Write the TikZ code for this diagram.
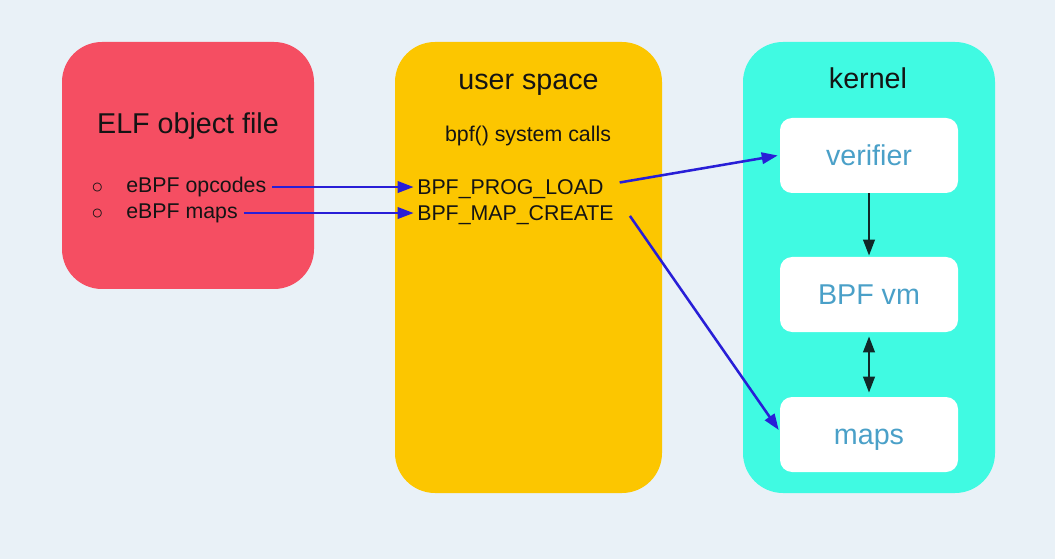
\documentclass[tikz,border=0pt]{standalone}
\usepackage{fontspec}
\setmainfont{Liberation Sans}
\usetikzlibrary{arrows.meta}
\definecolor{bg}{RGB}{233,241,247}
\definecolor{elfred}{RGB}{245,78,98}
\definecolor{usery}{RGB}{252,198,0}
\definecolor{kturq}{RGB}{64,250,226}
\definecolor{arrblue}{RGB}{40,30,215}
\definecolor{arrdark}{RGB}{16,40,40}
\definecolor{boxtext}{RGB}{74,160,200}
\definecolor{txt}{RGB}{20,20,20}
\begin{document}
\begin{tikzpicture}[x=0.75pt,y=-0.75pt,
  bigbox/.style={rounded corners=30pt, inner sep=0pt, draw=none},
  innerbox/.style={fill=white, rounded corners=9pt, minimum width={178*0.75pt}, minimum height={75*0.75pt},
     inner sep=0pt, font=\fontsize{21.5}{24}\selectfont, text=boxtext, text height=15.5pt, text depth=0pt},
  titletext/.style={font=\fontsize{21.5}{24}\selectfont, text=txt, inner sep=0pt, anchor=base},
  bodytext/.style={font=\fontsize{16}{19}\selectfont, text=txt, inner sep=0pt},
  tip/.tip={Triangle[length=12pt,width=8.5pt]},
  bluearrow/.style={draw=arrblue, line width=1.9pt, -tip},
  darkarrow/.style={draw=arrdark, line width=2pt},
]
\useasboundingbox (0,0) rectangle (1055,559);
\fill[bg] (0,0) rectangle (1055,559);

% big boxes
\node[bigbox, fill=elfred, minimum width={252*0.75pt}, minimum height={247*0.75pt}] (elf) at (188,165.5) {};
\node[bigbox, fill=usery, minimum width={267*0.75pt}, minimum height={451*0.75pt}] (user) at (528.5,267.5) {};
\node[bigbox, fill=kturq, minimum width={252*0.75pt}, minimum height={451*0.75pt}] (kernel) at (869,267.5) {};

% ELF content
\node[titletext] (elftitle) at (188,134) {ELF object file};
\node[bodytext, font=\fontsize{15}{17}\selectfont] (b1) at (97.5,188.5) {○};
\node[bodytext, font=\fontsize{15}{17}\selectfont] (b2) at (97.5,214.5) {○};
\node[bodytext, anchor=mid west] (op) at (126,188.5) {eBPF opcodes};
\node[bodytext, anchor=mid west] (mp) at (126,214.5) {eBPF maps};

% user space content
\node[titletext] (ustitle) at (528.5,90) {user space};
\node[bodytext, anchor=base] (sys) at (528,142) {bpf() system calls};
\node[bodytext, anchor=mid west] (load) at (417,190.5) {BPF\_PROG\_LOAD};
\node[bodytext, anchor=mid west] (create) at (417,216.5) {BPF\_MAP\_CREATE};

% kernel content
\node[titletext] (ktitle) at (868,89) {kernel};
\node[innerbox] (ver) at (869,155.5) {verifier};
\node[innerbox] (vm) at (869,294.5) {BPF vm};
\node[innerbox] (maps) at (869,434.5) {maps};

% arrows
\draw[bluearrow] ([xshift=4.5pt,yshift=1.1pt]op.mid east) -- ([xshift=-2.5pt,yshift=2.6pt]load.mid west);
\draw[bluearrow] ([xshift=4.5pt,yshift=1.1pt]mp.mid east) -- ([xshift=-2.5pt,yshift=2.6pt]create.mid west);
\draw[bluearrow] ([xshift=12pt,yshift=6pt]load.mid east) -- ([xshift=-1.5pt]ver.west);
\draw[bluearrow] ([xshift=12pt,yshift=0.4pt]create.mid east) -- ([xshift=-0.75pt,yshift=3.4pt]maps.west);
\draw[darkarrow, -tip] (ver.south) -- ([yshift=0.75pt]vm.north);
\draw[darkarrow, tip-tip] ([yshift=-3pt]vm.south) -- ([yshift=3pt]maps.north);
\end{tikzpicture}
\end{document}
